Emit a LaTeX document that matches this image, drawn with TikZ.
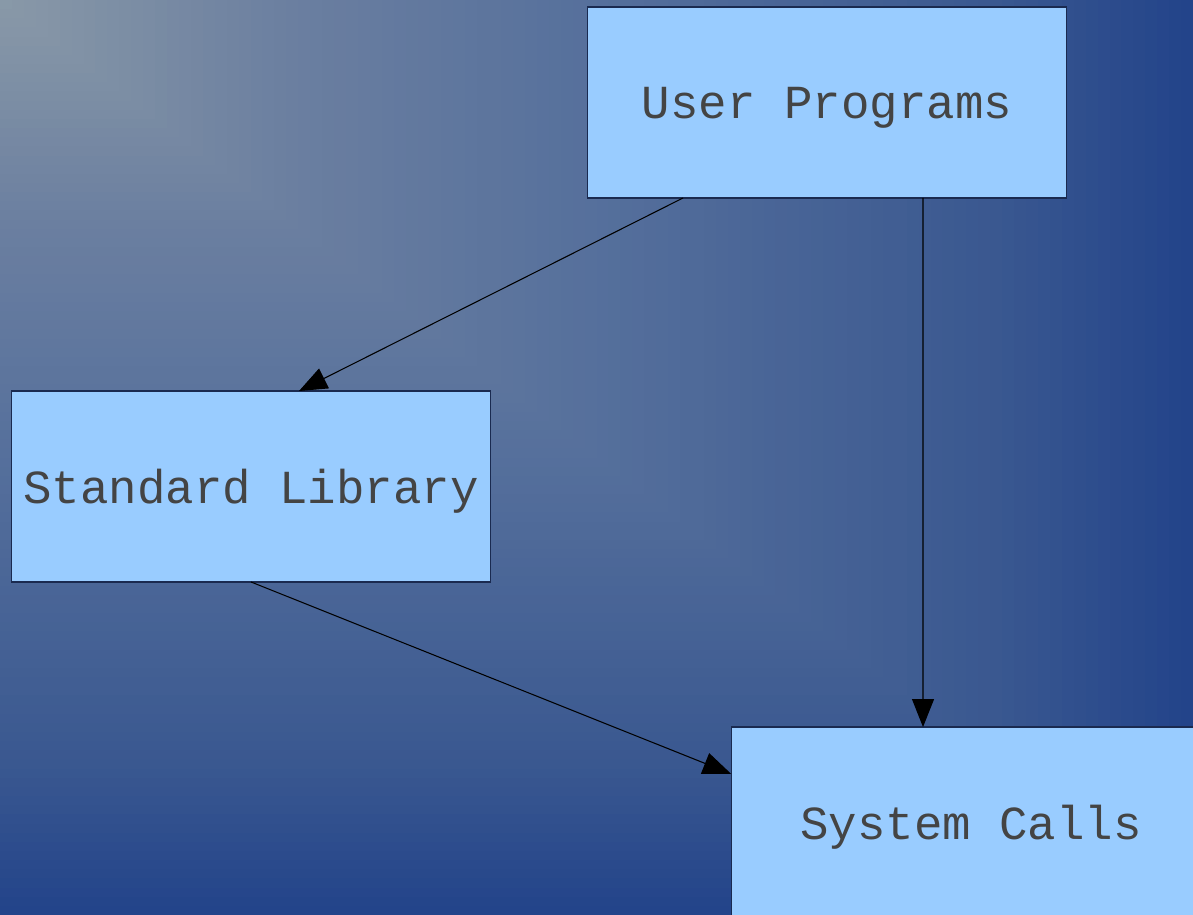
\documentclass[tikz,border=0pt]{standalone}
\usepackage{fontspec}
\setmonofont{Liberation Mono}
\usetikzlibrary{arrows.meta,calc}

\definecolor{boxfill}{HTML}{99CCFF}
\definecolor{boxline}{HTML}{1A2A50}
\definecolor{labeltext}{HTML}{444444}
\definecolor{bgA}{HTML}{8A9AA8}
\definecolor{bgB}{HTML}{6B7FA0}
\definecolor{bgC}{HTML}{56709C}
\definecolor{bgD}{HTML}{3A5890}
\definecolor{bgE}{HTML}{23448A}

\tikzset{
  layer/.style={draw=boxline, fill=boxfill, line width=0.6pt,
    minimum width=9.6cm, minimum height=3.82cm, inner sep=0pt, outer sep=0pt,
    text depth=0pt, text=labeltext, font=\fontsize{27}{32}\selectfont\ttfamily},
  call/.style={-{Triangle[length=0.56cm,width=0.44cm]}, line width=0.6pt, black}
}

\begin{document}
\begin{tikzpicture}[x=0.02cm,y=-0.02cm]
  \useasboundingbox (0,0) rectangle (1193,915);
  \clip (0,0) rectangle (1193,915);
  % background: rectangular gradient from the top left corner
  \foreach \i in {100,99,...,1}{
    \ifnum\i>84
      \pgfmathtruncatemacro\p{(100-\i)/16*100}\colorlet{ring}{bgD!\p!bgE}
    \else\ifnum\i>50
      \pgfmathtruncatemacro\p{(84-\i)/34*100}\colorlet{ring}{bgC!\p!bgD}
    \else\ifnum\i>25
      \pgfmathtruncatemacro\p{(50-\i)/25*100}\colorlet{ring}{bgB!\p!bgC}
    \else
      \pgfmathtruncatemacro\p{(25-\i)/25*100}\colorlet{ring}{bgA!\p!bgB}
    \fi\fi\fi
    \fill[ring] (0,0) rectangle (\i*11.93,\i*9.15);
  }

  \node[layer] (user) at (827,102.5) {User Programs};
  \node[layer] (stdlib) at (251,486.5) {Standard Library};
  \node[layer] (syscalls) at (971,822.5) {System Calls};

  \draw[call] ($(user.south west)!0.2!(user.south east)$) -- ($(stdlib.north west)!0.6!(stdlib.north east)$);
  \draw[call] ($(user.south west)!0.7!(user.south east)$) -- ($(syscalls.north west)!0.4!(syscalls.north east)$);
  \draw[call] (stdlib.south) -- ($(syscalls.north west)!0.245!(syscalls.south west)$);
\end{tikzpicture}
\end{document}
